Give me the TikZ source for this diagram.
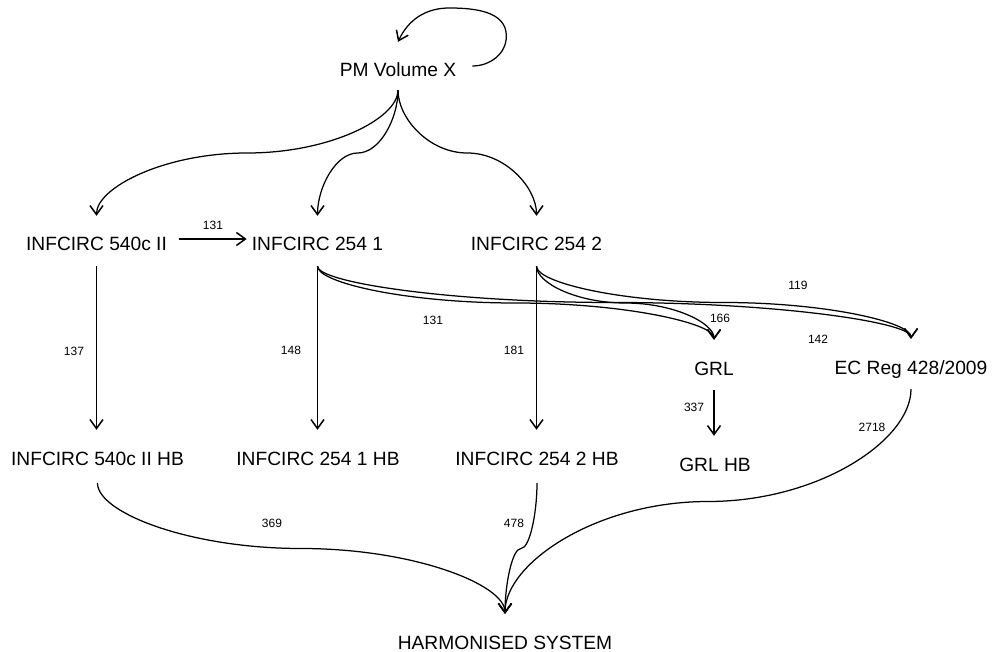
\documentclass[tikz,border=0pt]{standalone}
\usepackage{fontspec}
\setmainfont{Liberation Sans}
\usetikzlibrary{arrows.meta,calc}
\begin{document}
\begin{tikzpicture}[x=1pt,y=-1pt,
  lab/.style={font=\fontsize{19.2}{22}\selectfont, inner sep=0pt, text height=35pt, text depth=15pt, anchor=base},
  num/.style={font=\fontsize{12}{14}\selectfont, inner sep=0pt},
  arr/.style={line width=1.25pt, -{Straight Barb[length=9pt,width=13pt,line width=1.5pt]}},
  scurve/.style={to path={let \p1=(\tikztostart), \p2=(\tikztotarget),
      \p3=($(\tikztostart)!0.5!(\tikztotarget)$),
      \p4=($(\p3)!0.55!(\p1)$), \p5=($(\p3)!0.55!(\p2)$) in
      .. controls (\x1,\y4) and (\x4,\y3) .. (\p3)
      .. controls (\x5,\y3) and (\x2,\y5) .. (\tikztotarget) \tikztonodes}}
]
\fill[white] (0,0) rectangle (992,652);
\useasboundingbox (0,0) rectangle (992,652);

% nodes
\node[lab,text depth=13pt] (pm) at (398,77) {PM Volume X};
\node[lab] (c540) at (96.5,251) {INFCIRC 540c II};
\node[lab] (c2541) at (317.5,251) {INFCIRC 254 1};
\node[lab] (c2542) at (536.5,251) {INFCIRC 254 2};
\node[lab] (grl) at (714,375) {GRL};
\node[lab] (ec) at (911,374) {EC Reg 428/2009};
\node[lab,text depth=18pt] (h540) at (97.5,465) {INFCIRC 540c II HB};
\node[lab,text depth=18pt] (h2541) at (318,465) {INFCIRC 254 1 HB};
\node[lab,text depth=18pt] (h2542) at (537,465) {INFCIRC 254 2 HB};
\node[lab] (grlhb) at (715,471) {GRL HB};
\node[lab] (hs) at (505,649) {HARMONISED SYSTEM};

% edge labels
\node[num] (l131a) at (213,225) {131};
\node[num] (l137) at (74,351) {137};
\node[num] (l148) at (291,350) {148};
\node[num] (l181) at (514,350) {181};
\node[num] (l131b) at (433,320) {131};
\node[num] (l166) at (720,318) {166};
\node[num] (l119) at (798,285) {119};
\node[num] (l142) at (818,339) {142};
\node[num] (l337) at (694,407) {337};
\node[num] (l2718) at (872,427) {2718};
\node[num] (l369) at (272,523) {369};
\node[num] (l478) at (514,523) {478};

% self loop
\draw[arr] ([xshift=16pt]pm.east) to[out=0,in=-90] ++(34,-30) to[out=90,in=0] ++(-57,-28) to[out=180,in=65] (pm.north);

% from PM
\draw[arr] (pm.south) to[scurve] (c540.north);
\draw[arr] (pm.south) to[scurve] (c2541.north);
\draw[arr] (pm.south) to[scurve] (c2542.north);

% horizontal
\draw[arr] ([xshift=12pt,yshift=2pt]c540.east) -- ([xshift=-5pt,yshift=2pt]c2541.west);

% verticals
\draw[arr] (c540.south) -- (c540.south |- h540.north);
\draw[arr] (c2541.south) -- (c2541.south |- h2541.north);
\draw[arr] (c2542.south) -- (c2542.south |- h2542.north);
\draw[arr] (grl.south) -- (grl.south |- grlhb.north);

% to GRL and EC
\draw[arr] (c2541.south) to[scurve] (grl.north);
\draw[arr] (c2541.south) to[scurve] (ec.north);
\draw[arr] (c2542.south) to[scurve] (grl.north);
\draw[arr] (c2542.south) to[scurve] (ec.north);

% to harmonised system
\draw[arr] (h540.south) to[scurve] (hs.north);
\draw[arr] (h2542.south) to[scurve] (hs.north);
\draw[arr] (ec.south) to[scurve] (hs.north);
\end{tikzpicture}
\end{document}
